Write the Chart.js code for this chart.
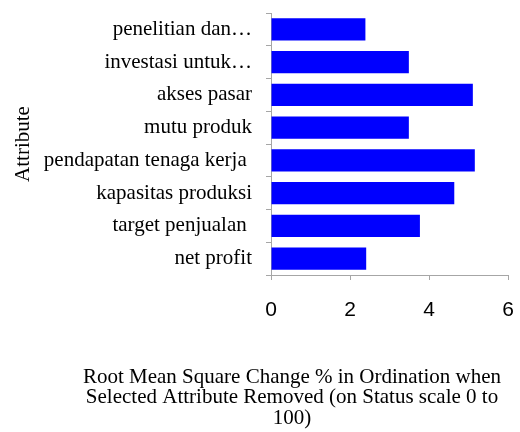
<!DOCTYPE html>
<html>
<head>
<meta charset="utf-8">
<script src="https://cdn.jsdelivr.net/npm/chart.js@4.4.3/dist/chart.umd.min.js"></script>
<style>
    html, body { margin: 0; padding: 0; background: #fff; }
    #wrap { width: 520px; height: 432px; position: relative; }
</style>
</head>
<body>
<div id="wrap"><canvas id="chart"></canvas></div>
<script>
const attributes = [
    'penelitian dan\u2026',
    'investasi untuk\u2026',
    'akses pasar',
    'mutu produk',
    'pendapatan tenaga kerja ',
    'kapasitas produksi',
    'target penjualan ',
    'net profit'
];
const rmsChange = [2.39, 3.49, 5.11, 3.49, 5.16, 4.64, 3.77, 2.41];
const xTicks = [0, 2, 4, 6];
const xTitleLines = [
    'Root Mean Square Change % in Ordination when',
    'Selected Attribute Removed (on Status scale 0 to',
    '100)'
];

const serif = '"Liberation Serif", "Times New Roman", serif';
const axisGray = '#a6a6a6';

// the x-axis title is centred on the page, not on the plot, in the original
const xTitlePlugin = {
    id: 'xTitle',
    afterDraw(chart) {
        const ctx = chart.ctx;
        ctx.save();
        ctx.font = '21px ' + serif;
        ctx.fillStyle = '#000';
        ctx.textAlign = 'center';
        ctx.textBaseline = 'middle';
        xTitleLines.forEach((line, i) => {
            ctx.fillText(line, 292, 377 + i * 20.7);
        });
        ctx.restore();
    }
};

new Chart(document.getElementById('chart'), {
    type: 'bar',
    data: {
        labels: attributes,
        datasets: [{
            data: rmsChange,
            backgroundColor: '#0000ff',
            borderWidth: 0,
            categoryPercentage: 1,
            barPercentage: 0.68
        }]
    },
    options: {
        indexAxis: 'y',
        responsive: true,
        maintainAspectRatio: false,
        animation: false,
        layout: { padding: { top: 13, right: 12, left: 0, bottom: 0 } },
        plugins: {
            legend: { display: false },
            tooltip: { enabled: false }
        },
        scales: {
            x: {
                min: 0,
                max: 6,
                afterFit: scale => {
                    scale.height = 157;
                    scale.paddingRight = 0;
                    scale.paddingLeft = 0;
                },
                afterBuildTicks: scale => { scale.ticks = xTicks.map(v => ({ value: v })); },
                grid: { drawOnChartArea: false, drawTicks: true, tickLength: 5, color: axisGray },
                border: { color: axisGray },
                ticks: {
                    color: '#000',
                    padding: 18,
                    maxRotation: 0,
                    font: { family: '"Liberation Sans", Arial, sans-serif', size: 21 }
                }
            },
            y: {
                afterFit: scale => {
                    scale.width = 271;
                    scale.paddingTop = 0;
                    scale.paddingBottom = 0;
                },
                grid: { drawOnChartArea: false, drawTicks: true, tickLength: 5, color: axisGray },
                border: { color: axisGray },
                ticks: {
                    color: '#000',
                    padding: 14,
                    autoSkip: false,
                    font: { family: serif, size: 21 }
                },
                title: {
                    display: true,
                    text: 'Attribute',
                    color: '#000',
                    padding: { top: 11, bottom: 0 },
                    font: { family: serif, size: 21 }
                }
            }
        }
    },
    plugins: [xTitlePlugin]
});
</script>
</body>
</html>
